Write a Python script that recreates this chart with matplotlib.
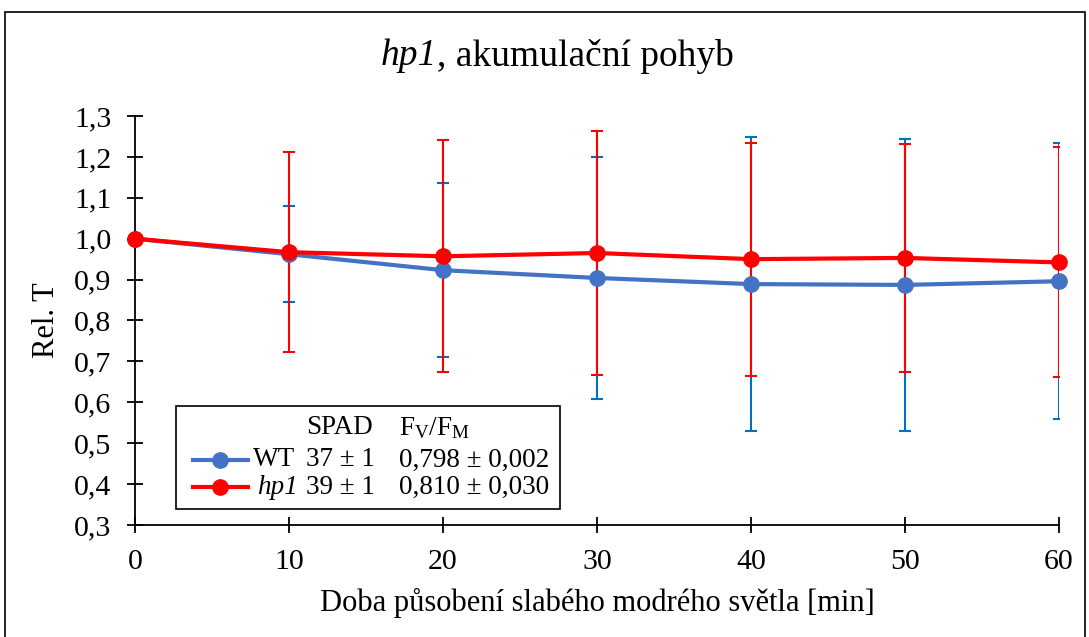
import matplotlib
matplotlib.use("Agg")
import matplotlib.pyplot as plt
from matplotlib.lines import Line2D
from matplotlib.patches import Rectangle

plt.rcParams["font.family"] = ["Liberation Serif", "DejaVu Serif"]
plt.rcParams["mathtext.fontset"] = "custom"
plt.rcParams["mathtext.rm"] = "Liberation Serif"
plt.rcParams["mathtext.it"] = "Liberation Serif:italic"

# Data
minutes = [0, 10, 20, 30, 40, 50, 60]
wt_mean = [1.000, 0.962, 0.923, 0.904, 0.889, 0.887, 0.896]
wt_err = [0.0, 0.117, 0.213, 0.296, 0.360, 0.357, 0.338]
hp1_mean = [1.000, 0.967, 0.957, 0.965, 0.950, 0.953, 0.942]
hp1_err = [0.0, 0.245, 0.284, 0.298, 0.285, 0.279, 0.281]

spad = ["37 ± 1", "39 ± 1"]
fvfm = ["0,798 ± 0,002", "0,810 ± 0,030"]

yticks = [0.3, 0.4, 0.5, 0.6, 0.7, 0.8, 0.9, 1.0, 1.1, 1.2, 1.3]

blue_line = "#4472C4"
blue_err = "#0070C0"
red = "#FF0000"
FS = 21.5
LFS = 19.5

W, H = 1089, 637
fig = plt.figure(figsize=(W / 100, H / 100), dpi=100)
ax = fig.add_axes([135 / W, 1 - 525 / H, (1059 - 135) / W, (525 - 116) / H])

# outer chart border
fig.patches.append(Rectangle((5 / W, -0.01), 1080 / W, 1 - 12 / H + 0.01,
                             transform=fig.transFigure, fill=False,
                             edgecolor="black", linewidth=1.2))

ax.errorbar(minutes, wt_mean, yerr=wt_err, fmt="none", ecolor=blue_err,
            elinewidth=1.5, capsize=4.5, capthick=1.5, zorder=2)
ax.errorbar(minutes, hp1_mean, yerr=hp1_err, fmt="none", ecolor=red,
            elinewidth=1.5, capsize=4.5, capthick=1.5, zorder=3)
ax.plot(minutes, wt_mean, color=blue_line, lw=3, marker="o", ms=11,
        clip_on=False, zorder=4)
ax.plot(minutes, hp1_mean, color=red, lw=3, marker="o", ms=11,
        clip_on=False, zorder=5)

ax.set_xlim(0, 60)
ax.set_ylim(0.3, 1.3)
ax.set_xticks(minutes)
ax.set_xticklabels([str(m) for m in minutes])
ax.set_yticks(yticks)
ax.set_yticklabels([("%.1f" % v).replace(".", ",") for v in yticks])
ax.tick_params(direction="inout", length=12, width=1.3, labelsize=FS,
               colors="black")
ax.tick_params(axis="x", pad=11)
ax.tick_params(axis="y", pad=11)
ax.spines["top"].set_visible(False)
ax.spines["right"].set_visible(False)
for s in ("left", "bottom"):
    ax.spines[s].set_linewidth(1.3)

# title: italic gene name followed by upright text
renderer = fig.canvas.get_renderer()
t1 = fig.text(0, 1 - 56 / H, "hp1", style="italic", ha="left",
              va="center", fontsize=27)
t2 = fig.text(0, 1 - 56 / H, ", akumulační pohyb", ha="left",
              va="center", fontsize=27)
w1 = t1.get_window_extent(renderer).width
w2 = t2.get_window_extent(renderer).width
x0 = 557 - (w1 + w2) / 2
t1.set_x(x0 / W)
t2.set_x((x0 + w1) / W)

fig.text(47 / W, 1 - 320 / H, "Rel. T", rotation=90, ha="center",
         va="center", fontsize=FS + 0.5)
fig.text(597 / W, 1 - 603 / H,
         "Doba působení slabého modrého světla [min]",
         ha="center", va="center", fontsize=FS + 0.5)

# custom legend box
fig.patches.append(Rectangle((176 / W, 1 - 509 / H), (560 - 176) / W,
                             (509 - 406) / H, transform=fig.transFigure,
                             facecolor="white", edgecolor="black",
                             linewidth=1.2, zorder=10))
fig.text(306 / W, 1 - 428 / H, "SPAD", ha="left", va="center",
         fontsize=LFS, zorder=11)
fig.text(399 / W, 1 - 428 / H, r"F$_\mathrm{V}$/F$_\mathrm{M}$",
         ha="left", va="center", fontsize=LFS, zorder=11)
row_y = [460, 487]
colors = [blue_line, red]
labels = ["WT", "hp1"]
styles = ["normal", "italic"]
for i in range(2):
    y = 1 - row_y[i] / H
    fig.lines.append(Line2D([193 / W, 248 / W], [y, y], color=colors[i],
                            lw=3, transform=fig.transFigure, zorder=11))
    fig.lines.append(Line2D([220 / W], [y], color=colors[i], marker="o",
                            ms=11, transform=fig.transFigure, zorder=12))
    fig.text((253 if i == 0 else 257) / W, y, labels[i], style=styles[i],
             ha="left", va="center", fontsize=LFS, zorder=11)
    fig.text(306 / W, y, spad[i], ha="left", va="center", fontsize=LFS,
             zorder=11)
    fig.text(399 / W, y, fvfm[i], ha="left", va="center", fontsize=LFS,
             zorder=11)

fig.savefig("out.png", dpi=100)
